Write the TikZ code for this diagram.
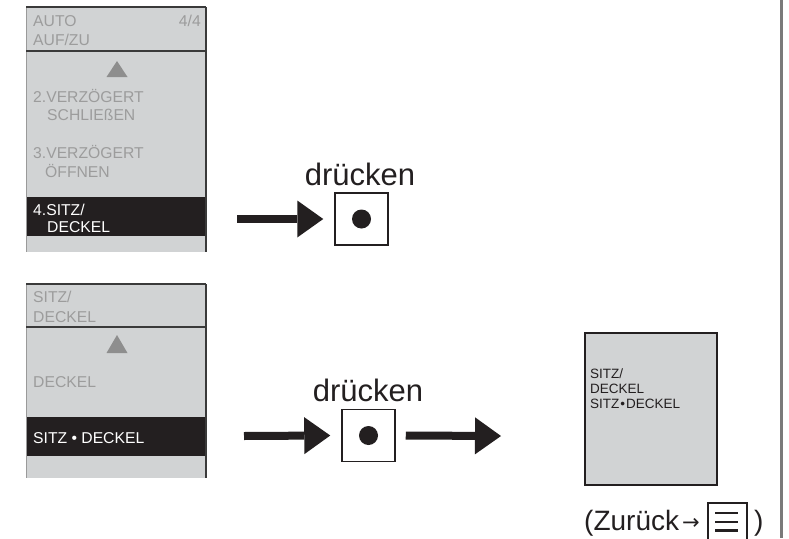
\documentclass[tikz,border=0pt]{standalone}
\usepackage{fontspec}
\setmainfont{Liberation Sans}
\newfontfamily\dejavu{DejaVu Sans}
\usetikzlibrary{arrows.meta,calc}
\definecolor{panelgray}{HTML}{D1D3D4}
\definecolor{paneltext}{HTML}{9C9C9C}
\definecolor{bandblack}{HTML}{231F20}
\definecolor{trigray}{HTML}{8E8E8E}
\definecolor{edgegray}{HTML}{3A3A3A}
\definecolor{lightedge}{HTML}{9A9A9A}
\definecolor{rulegray}{HTML}{7A7A7A}
\tikzset{
  ptext/.style={anchor=base west,inner sep=0pt,text=paneltext,font=\fontsize{15.7}{18}\selectfont},
  wtext/.style={ptext,text=white},
  btext/.style={anchor=base west,inner sep=0pt,text=bandblack,font=\fontsize{13.5}{16}\selectfont},
  bigtext/.style={anchor=base,inner sep=0pt,text=bandblack,font=\fontsize{31}{36}\selectfont},
  backtext/.style={anchor=base west,inner sep=0pt,text=bandblack,font=\fontsize{28}{32}\selectfont},
  button/.style={draw=bandblack,line width=1.5pt,fill=white,minimum width=53pt,minimum height=52pt,inner sep=0pt},
  resultbox/.style={draw=bandblack,line width=2pt,fill=panelgray,minimum width=132pt,minimum height=152pt,inner sep=0pt},
  bigarrow/.style={draw=bandblack,line width=8pt,-{Triangle[length=26pt,width=37pt,line width=0pt]}},
  topb/.style={draw=edgegray,line width=1.3pt},
  sepb/.style={draw=edgegray,line width=1.6pt},
  rightb/.style={draw=edgegray,line width=1.8pt},
  leftb/.style={draw=lightedge,line width=0.8pt},
}
\begin{document}
\begin{tikzpicture}[x=1pt,y=-1pt]
\clip (0,0) rectangle (789,538);
\fill[white] (0,0) rectangle (789,538);

% ---------- panel 1 ----------
\fill[panelgray] (26,7) rectangle (206,252);
\fill[bandblack] (26,197) rectangle (206,236);
\draw[leftb] (26,7) -- (26,252);
\draw[topb] (26,7) -- (206,7);
\draw[sepb] (26,51) -- (206,51);
\draw[rightb] (206,7) -- (206,252);
\fill[trigray] (117,61) -- (127.5,77) -- (106.5,77) -- cycle;
\node[ptext] (p1a) at (33,26) {AUTO};
\node[ptext] (p1b) at (33,45) {AUF/ZU};
\node[ptext,anchor=base east] (p1c) at (201,26) {4/4};
\node[ptext] (p1d) at (33,102) {2.VERZÖGERT};
\node[ptext] (p1e) at (47,120) {SCHLIEßEN};
\node[ptext] (p1f) at (33,158) {3.VERZÖGERT};
\node[ptext] (p1g) at (45,177) {ÖFFNEN};
\node[wtext] (p1h) at (33,215) {4.SITZ/};
\node[wtext] (p1i) at (47,232) {DECKEL};

% ---------- panel 2 ----------
\fill[panelgray] (26,284) rectangle (206,478);
\fill[bandblack] (26,417) rectangle (206,456);
\draw[leftb] (26,284) -- (26,478);
\draw[topb] (26,284) -- (206,284);
\draw[sepb] (26,327) -- (206,327);
\draw[rightb] (206,284) -- (206,478);
\fill[trigray] (117,335) -- (127.5,353) -- (106.5,353) -- cycle;
\node[ptext] (p2a) at (33,302) {SITZ/};
\node[ptext] (p2b) at (33,322) {DECKEL};
\node[ptext] (p2c) at (33,387) {DECKEL};
\node[wtext] (p2d) at (33,443) {SITZ • DECKEL};

% ---------- buttons ----------
\node[button] (btn1) at (361.5,219) {};
\fill[bandblack] (btn1.center) circle (9.5pt);
\node[bigtext] (d1) at (360,185) {drücken};

\node[button] (btn2) at (368.5,435.5) {};
\fill[bandblack] (btn2.center) circle (9.5pt);
\node[bigtext] (d2) at (368,401) {drücken};

% ---------- arrows ----------
\coordinate (a1s) at (237,219);
\draw[bigarrow] (a1s) -- ([xshift=-11pt]btn1.west);
\coordinate (a2s) at (244,436);
\draw[bigarrow] (a2s) -- ([xshift=-11pt]btn2.west);

% ---------- result ----------
\node[resultbox] (res) at (651,409) {};
\coordinate (a3e) at (501,436);
\draw[bigarrow] ([xshift=10pt]btn2.east) -- (a3e);
\node[btext] (r1) at (590,378) {SITZ/};
\node[btext] (r2) at (590,393) {DECKEL};
\node[btext] (r3) at (590,408) {SITZ{\kern1pt}•{\kern1pt}DECKEL};

% ---------- back hint ----------
\node[backtext] (z1) at (584,530) {(Zurück};
\node[anchor=base west,inner sep=0pt,text=bandblack,font=\dejavu\fontsize{21}{24}\selectfont] (z2) at (682,529) {→};
\node[draw=bandblack,line width=1.5pt,minimum width=39pt,minimum height=46pt,inner sep=0pt,anchor=north west] (menu) at (707,502) {};
\draw[bandblack,line width=2.5pt] (715,513) -- (738,513) (715,522) -- (738,522) (715,530.5) -- (738,530.5);
\node[backtext] (z3) at (754,530) {)};

% ---------- right rule ----------
\draw[rulegray,line width=3pt] (781.5,0) -- (781.5,538);
\end{tikzpicture}
\end{document}
